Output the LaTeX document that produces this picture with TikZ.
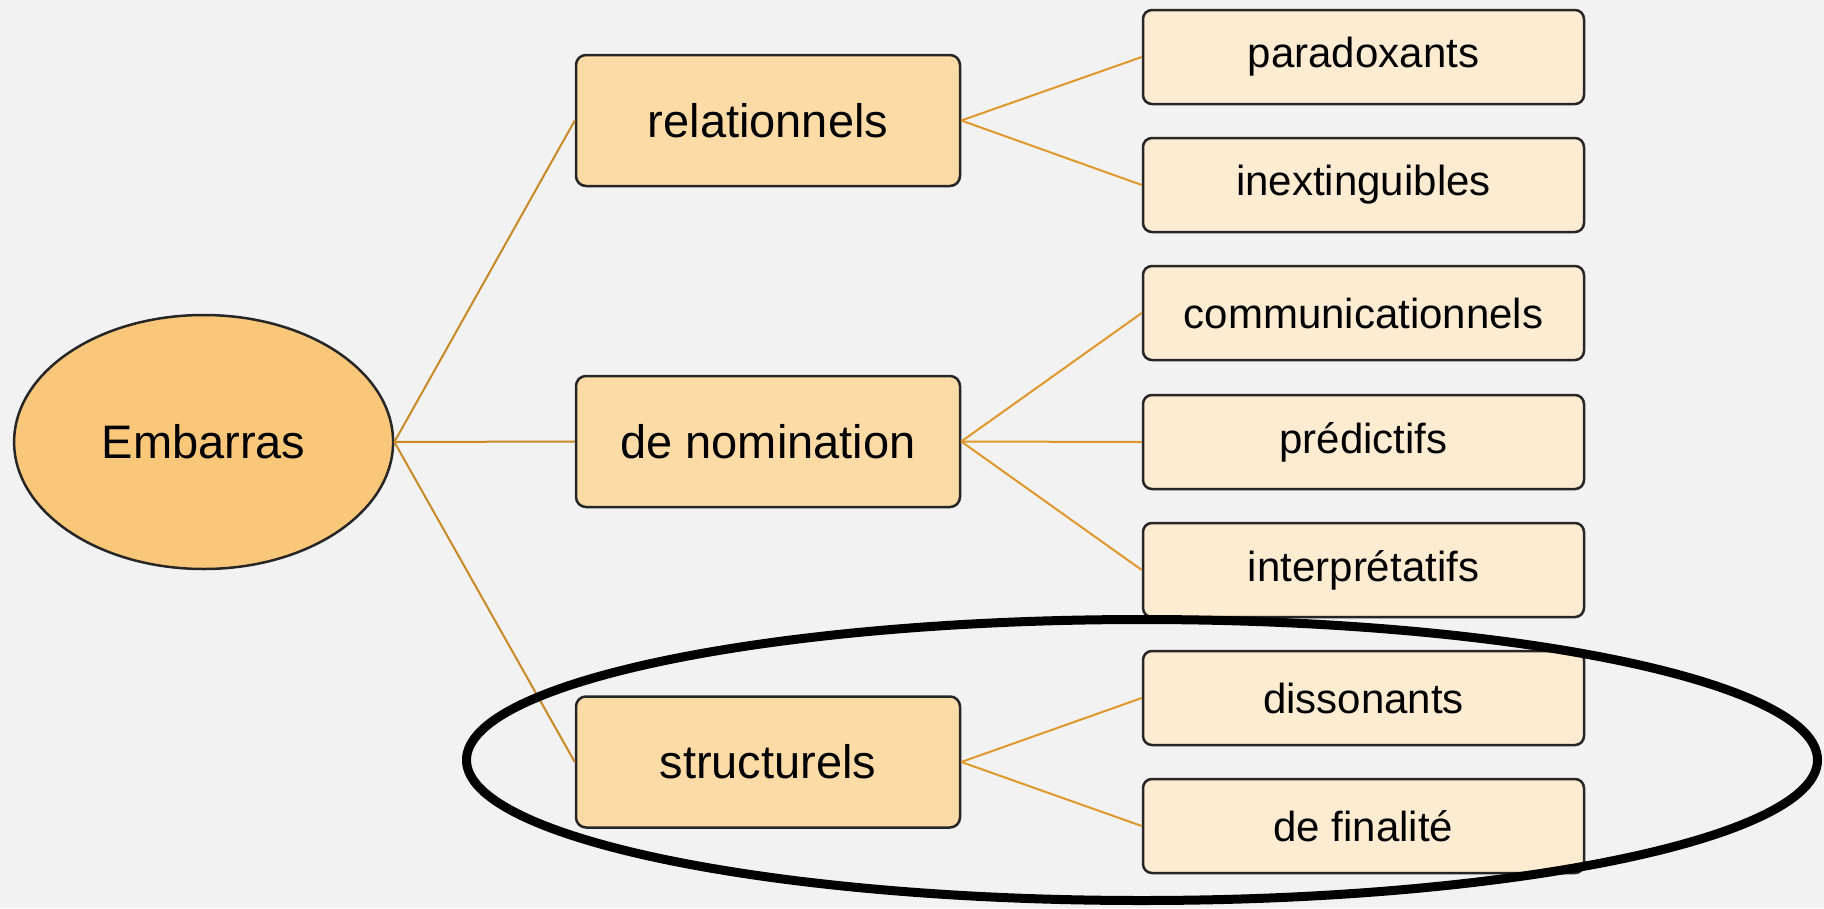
\documentclass[tikz,border=0pt]{standalone}
\usepackage{fontspec}
\setmainfont{Liberation Sans}
\usetikzlibrary{shapes.geometric}
\definecolor{bg}{HTML}{F2F2F2}
\definecolor{rootfill}{HTML}{F9C77A}
\definecolor{midfill}{HTML}{FCDBA6}
\definecolor{leaffill}{HTML}{FDECD2}
\definecolor{rootedge}{HTML}{C98A26}
\definecolor{leafedge}{HTML}{E0982C}
\tikzset{
  x=1pt, y=-1pt,
  rootnode/.style={ellipse, draw=black!85, line width=2.5pt, fill=rootfill, minimum width=379pt, minimum height=254pt, inner sep=0pt, font=\fontsize{47}{52}\selectfont},
  midbox/.style={rectangle, rounded corners=10pt, draw=black!85, line width=2.5pt, fill=midfill, minimum width=384pt, minimum height=131pt, inner sep=0pt, font=\fontsize{47}{52}\selectfont},
  leafbox/.style={rectangle, rounded corners=9pt, draw=black!85, line width=2.5pt, fill=leaffill, minimum width=441pt, minimum height=94pt, inner sep=0pt, font=\fontsize{42}{48}\selectfont},
  rootlink/.style={draw=rootedge, line width=2pt},
  leaflink/.style={draw=leafedge, line width=2pt},
  highlight/.style={ellipse, draw=black, line width=9pt, minimum width=1351pt, minimum height=281pt, inner sep=0pt}
}
\begin{document}
\begin{tikzpicture}
\fill[bg] (0,0) rectangle (1824,908);
\useasboundingbox (0,0) rectangle (1824,908);
\node[rootnode] (root) at (203.6,442) {Embarras};
\node[midbox] (rel) at (768,120.5) {relationnels};
\node[midbox] (nom) at (768,441.5) {de nomination};
\node[midbox] (str) at (768,762) {structurels};
\node[leafbox] (par) at (1363.5,57) {paradoxants};
\node[leafbox] (inx) at (1363.5,185) {inextinguibles};
\node[leafbox] (com) at (1363.5,313) {communicationnels};
\node[leafbox] (pre) at (1363.5,442) {prédictifs};
\node[leafbox] (int) at (1363.5,570) {interprétatifs};
\node[leafbox] (dis) at (1363.5,698) {dissonants};
\node[leafbox] (fin) at (1363.5,826) {de finalité};
\draw[rootlink] (root.east) -- (rel.west);
\draw[rootlink] (root.east) -- (nom.west);
\draw[rootlink] (root.east) -- (str.west);
\draw[leaflink] (rel.east) -- (par.west);
\draw[leaflink] (rel.east) -- (inx.west);
\draw[leaflink] (nom.east) -- (com.west);
\draw[leaflink] (nom.east) -- (pre.west);
\draw[leaflink] (nom.east) -- (int.west);
\draw[leaflink] (str.east) -- (dis.west);
\draw[leaflink] (str.east) -- (fin.west);
\node[highlight] (hl) at (1142,760) {};
\end{tikzpicture}
\end{document}
